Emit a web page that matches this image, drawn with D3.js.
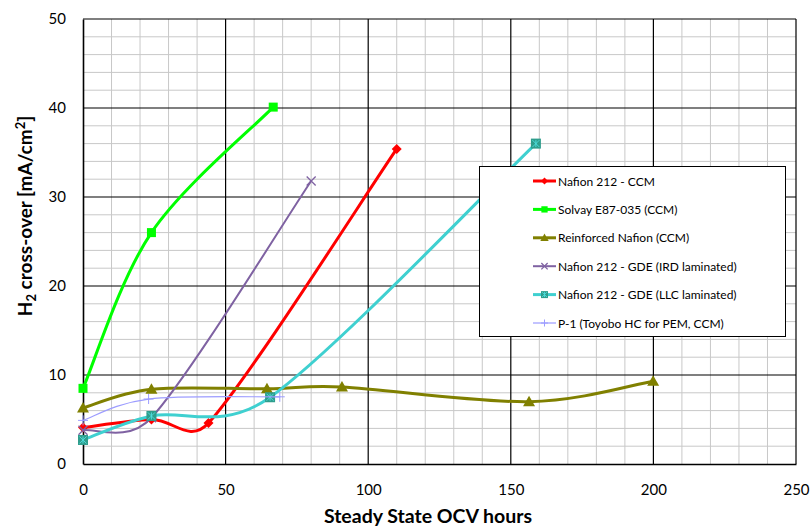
<!DOCTYPE html>
<html>
<head>
<meta charset="utf-8">
<script src="https://cdn.jsdelivr.net/npm/d3@7"></script>
<style>
  html, body { margin: 0; padding: 0; background: #fff; }
  svg { display: block; }
  text { font-family: Lato, "Open Sans", sans-serif; fill: #000; }
</style>
</head>
<body>
<svg id="chart" width="810" height="527"></svg>
<script>
// Membrane H2 cross-over versus steady state OCV hold time
const seriesNames = [
  "Nafion 212 - CCM",
  "Solvay E87-035 (CCM)",
  "Reinforced Nafion (CCM)",
  "Nafion 212 - GDE (IRD laminated)",
  "Nafion 212 - GDE (LLC laminated)",
  "P-1 (Toyobo HC for PEM, CCM)"
];
const nafionCcmHours = [0, 24, 44, 110];
const nafionCcmValues = [4.1, 5.0, 4.6, 35.4];
const solvayHours = [0, 24, 66.7];
const solvayValues = [8.5, 26.0, 40.1];
const reinforcedHours = [0, 24, 64.5, 90.8, 156.4, 199.9];
const reinforcedValues = [6.3, 8.4, 8.45, 8.65, 7.0, 9.3];
const irdHours = [0, 24, 80];
const irdValues = [3.8, 5.2, 31.8];
const llcHours = [0, 24, 65.6, 158.8];
const llcValues = [2.7, 5.4, 7.5, 36.0];
const toyoboHours = [0, 23, 69];
const toyoboValues = [4.9, 7.3, 7.55];

const xTicks = [0, 50, 100, 150, 200, 250];
const yTicks = [0, 10, 20, 30, 40, 50];

const series = [
  { name: seriesNames[0], hours: nafionCcmHours, values: nafionCcmValues, color: "#ff0000", width: 3, marker: "diamond" },
  { name: seriesNames[1], hours: solvayHours, values: solvayValues, color: "#00ff00", width: 3, marker: "square" },
  { name: seriesNames[2], hours: reinforcedHours, values: reinforcedValues, color: "#808000", width: 3, marker: "triangle" },
  { name: seriesNames[3], hours: irdHours, values: irdValues, color: "#7f62a2", width: 2, marker: "cross" },
  { name: seriesNames[4], hours: llcHours, values: llcValues, color: "#3fd0d0", width: 3, marker: "starSquare" },
  { name: seriesNames[5], hours: toyoboHours, values: toyoboValues, color: "#9c9cff", width: 1.2, marker: "plus" }
];

const svg = d3.select("#chart");
const plotLeft = 83, plotRight = 796, plotTop = 19, plotBottom = 464;

const x = d3.scaleLinear().domain([0, 250]).range([plotLeft, plotRight]);
const y = d3.scaleLinear().domain([0, 50]).range([plotBottom, plotTop]);

// Spreadsheet-style smoothed line: Catmull-Rom handles capped at half the segment length
function smoothCurve(context) {
  let pts;
  return {
    areaStart() {}, areaEnd() {},
    lineStart() { pts = []; },
    point(px, py) { pts.push([+px, +py]); },
    lineEnd() {
      const n = pts.length;
      if (!n) return;
      context.moveTo(pts[0][0], pts[0][1]);
      for (let i = 0; i < n - 1; i++) {
        const p0 = pts[Math.max(i - 1, 0)], p1 = pts[i], p2 = pts[i + 1], p3 = pts[Math.min(i + 2, n - 1)];
        const half = Math.hypot(p2[0] - p1[0], p2[1] - p1[1]) / 2;
        let a = [(p2[0] - p0[0]) / 6, (p2[1] - p0[1]) / 6];
        let b = [(p3[0] - p1[0]) / 6, (p3[1] - p1[1]) / 6];
        const la = Math.hypot(a[0], a[1]), lb = Math.hypot(b[0], b[1]);
        if (la > half) a = a.map(v => v * half / la);
        if (lb > half) b = b.map(v => v * half / lb);
        context.bezierCurveTo(p1[0] + a[0], p1[1] + a[1], p2[0] - b[0], p2[1] - b[1], p2[0], p2[1]);
      }
    }
  };
}

// Minor grid
const grid = svg.append("g");
grid.selectAll("line.vx").data(d3.range(10, 250, 10).filter(v => v % 50 !== 0)).join("line")
  .attr("x1", d => x(d)).attr("x2", d => x(d)).attr("y1", plotTop).attr("y2", plotBottom)
  .attr("stroke", "#c8c8c8").attr("stroke-width", 1);
grid.selectAll("line.hy").data(d3.range(2, 50, 2).filter(v => v % 10 !== 0)).join("line")
  .attr("x1", plotLeft).attr("x2", plotRight).attr("y1", d => y(d)).attr("y2", d => y(d))
  .attr("stroke", "#c8c8c8").attr("stroke-width", 1);

// Major grid
const major = svg.append("g");
major.selectAll("line.mx").data(xTicks.slice(1)).join("line")
  .attr("x1", d => x(d)).attr("x2", d => x(d)).attr("y1", plotTop).attr("y2", plotBottom)
  .attr("stroke", "#000").attr("stroke-width", 1.2);
major.selectAll("line.my").data(yTicks.slice(1)).join("line")
  .attr("x1", plotLeft).attr("x2", plotRight).attr("y1", d => y(d)).attr("y2", d => y(d))
  .attr("stroke", "#000").attr("stroke-width", 1.2);

// Axes
const xAxis = svg.append("g").attr("transform", `translate(0,${plotBottom})`)
  .call(d3.axisBottom(x).tickValues(xTicks).tickSize(0).tickPadding(20));
const yAxis = svg.append("g").attr("transform", `translate(${plotLeft},0)`)
  .call(d3.axisLeft(y).tickValues(yTicks).tickSize(0).tickPadding(17));
[xAxis, yAxis].forEach(g => {
  g.select(".domain").attr("stroke", "#000").attr("stroke-width", 1.6);
  g.selectAll("text").style("font-family", "Lato, 'Open Sans', sans-serif").style("font-size", "15px").attr("fill", "#000");
});

// Axis titles
svg.append("text").attr("x", 428).attr("y", 523).attr("text-anchor", "middle")
  .style("font-size", "19.5px").style("font-weight", "bold").text("Steady State OCV hours");
const yt = svg.append("text").attr("transform", "translate(32,216) rotate(-90)")
  .attr("text-anchor", "middle").style("font-size", "19px").style("font-weight", "bold");
yt.append("tspan").text("H");
yt.append("tspan").attr("dy", 4).style("font-size", "13px").text("2");
yt.append("tspan").attr("dy", -4).text(" cross-over [mA/cm");
yt.append("tspan").attr("dy", -7).style("font-size", "13px").text("2");
yt.append("tspan").attr("dy", 7).text("]");

// Marker drawing
function drawMarker(g, kind, color, cx, cy, scale) {
  const s = scale || 1;
  if (kind === "diamond") {
    const r = 5 * s;
    g.append("path").attr("d", `M${cx},${cy - r}L${cx + r},${cy}L${cx},${cy + r}L${cx - r},${cy}Z`).attr("fill", color);
  } else if (kind === "square") {
    const r = 4.5 * s;
    g.append("rect").attr("x", cx - r).attr("y", cy - r).attr("width", 2 * r).attr("height", 2 * r).attr("fill", color);
  } else if (kind === "triangle") {
    const r = 6 * s;
    g.append("path").attr("d", `M${cx},${cy - r}L${cx + r},${cy + r * 0.75}L${cx - r},${cy + r * 0.75}Z`).attr("fill", color);
  } else if (kind === "cross") {
    const r = 4.5 * s;
    g.append("path").attr("d", `M${cx - r},${cy - r}L${cx + r},${cy + r}M${cx - r},${cy + r}L${cx + r},${cy - r}`)
      .attr("stroke", color).attr("stroke-width", 1.3).attr("fill", "none");
  } else if (kind === "starSquare") {
    const r = 5 * s;
    g.append("rect").attr("x", cx - r).attr("y", cy - r).attr("width", 2 * r).attr("height", 2 * r).attr("fill", "#2f9d8c");
    const q = r * 0.7;
    g.append("path").attr("d", `M${cx - q},${cy - q}L${cx + q},${cy + q}M${cx - q},${cy + q}L${cx + q},${cy - q}M${cx},${cy - q}L${cx},${cy + q}`)
      .attr("stroke", "#4fe0e0").attr("stroke-width", 0.9).attr("fill", "none");
  } else if (kind === "plus") {
    const r = 5 * s;
    g.append("path").attr("d", `M${cx - r},${cy}L${cx + r},${cy}M${cx},${cy - r}L${cx},${cy + r}`)
      .attr("stroke", color).attr("stroke-width", 1).attr("fill", "none");
  }
}

const line = d3.line().x(d => x(d[0])).y(d => y(d[1])).curve(smoothCurve);

// Lines, drawn in series order
const plot = svg.append("g");
series.forEach(s => {
  const pts = s.hours.map((h, i) => [h, s.values[i]]);
  plot.append("path").datum(pts).attr("d", line)
    .attr("fill", "none").attr("stroke", s.color).attr("stroke-width", s.width)
    .attr("stroke-linejoin", "round").attr("stroke-linecap", "round");
  const mg = plot.append("g");
  pts.forEach(p => drawMarker(mg, s.marker, s.color, x(p[0]), y(p[1])));
});

// Legend
const lg = svg.append("g");
lg.append("rect").attr("x", 479.5).attr("y", 166.5).attr("width", 306).attr("height", 170)
  .attr("fill", "#fff").attr("stroke", "#000").attr("stroke-width", 1);
const rowY = d3.scaleLinear().domain([0, 5]).range([181, 323]);
series.forEach((s, i) => {
  const cy = rowY(i);
  lg.append("line").attr("x1", 533).attr("x2", 556).attr("y1", cy).attr("y2", cy)
    .attr("stroke", s.color).attr("stroke-width", s.width === 3 ? 3 : (s.width === 2 ? 2 : 1.2));
  drawMarker(lg, s.marker, s.color, 544.5, cy, 0.7);
  lg.append("text").attr("x", 558).attr("y", cy + 4.5).style("font-size", "12px").text(s.name);
});
</script>
</body>
</html>
